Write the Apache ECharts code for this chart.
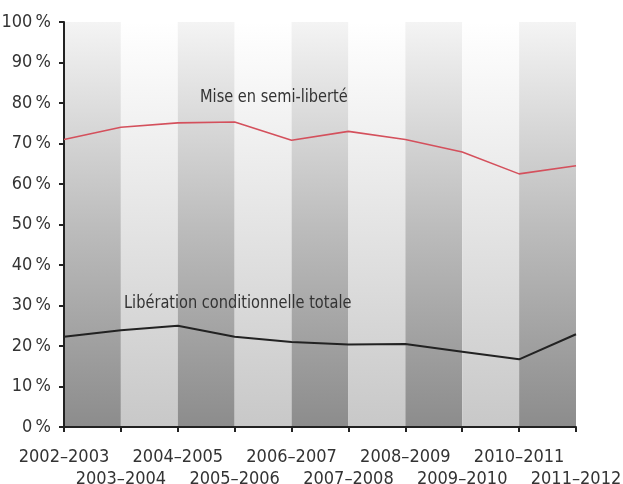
<!DOCTYPE html>
<html>
<head>
<meta charset="utf-8">
<script src="https://cdn.jsdelivr.net/npm/echarts@6/dist/echarts.min.js"></script>
<style>
  html, body { margin: 0; padding: 0; background: #fff; }
  #chart { width: 623px; height: 484px; }
</style>
</head>
<body>
<div id="chart"></div>
<script>
const years = ['2002–2003', '2003–2004', '2004–2005', '2005–2006', '2006–2007',
  '2007–2008', '2008–2009', '2009–2010', '2010–2011', '2011–2012'];
const semiLiberte = [71.0, 74.0, 75.1, 75.3, 70.8, 73.0, 71.0, 67.9, 62.5, 64.5];
const liberationTotale = [22.3, 23.9, 25.0, 22.3, 21.0, 20.4, 20.5, 18.6, 16.7, 22.9];
const yTicks = [0, 10, 20, 30, 40, 50, 60, 70, 80, 90, 100];

// narrow look: ask the canvas for the condensed width of DejaVu Sans
const FONT = 'DejaVu Sans';
const STRETCH = 'condensed';
const chart = echarts.init(document.getElementById('chart'));

// darker / lighter vertical bands, fading to white at the top
const darkBand = new echarts.graphic.LinearGradient(0, 0, 0, 1, [
  { offset: 0, color: '#f4f4f4' },
  { offset: 0.5, color: '#bdbdbd' },
  { offset: 1, color: '#8c8c8c' }
]);
const lightBand = new echarts.graphic.LinearGradient(0, 0, 0, 1, [
  { offset: 0, color: '#ffffff' },
  { offset: 0.5, color: '#e4e4e4' },
  { offset: 1, color: '#c8c8c8' }
]);

const option = {
  animation: false,
  grid: { left: 64, right: 47, top: 22, bottom: 57, outerBoundsMode: 'none', containLabel: false },
  xAxis: {
    type: 'category',
    data: years,
    boundaryGap: false,
    axisLine: { lineStyle: { color: '#222', width: 2 } },
    axisTick: { show: true, length: 5, lineStyle: { color: '#222', width: 2 } },
    axisLabel: {
      interval: 0,
      margin: 19,
      color: '#333',
      fontFamily: FONT,
      fontStyle: STRETCH,
      fontSize: 18,
      lineHeight: 22,
      formatter: (v, i) => (i % 2 ? '\n' + v : v)
    },
    splitLine: { show: false },
    splitArea: { show: true, interval: 0, areaStyle: { color: [darkBand, lightBand] } }
  },
  yAxis: {
    type: 'value',
    min: 0,
    max: 100,
    interval: 10,
    axisLine: { show: true, lineStyle: { color: '#222', width: 2 } },
    axisTick: { show: true, length: 5, lineStyle: { color: '#222', width: 2 } },
    axisLabel: {
      margin: 13,
      color: '#333',
      fontFamily: FONT,
      fontStyle: STRETCH,
      fontSize: 18,
      formatter: v => (yTicks.includes(v) ? v + '\u202f%' : '')
    },
    splitLine: { show: false }
  },
  series: [
    {
      name: 'Mise en semi-liberté',
      type: 'line',
      data: semiLiberte,
      symbol: 'none',
      lineStyle: { color: '#d4505c', width: 1.6 }
    },
    {
      name: 'Libération conditionnelle totale',
      type: 'line',
      data: liberationTotale,
      symbol: 'none',
      lineStyle: { color: '#222', width: 2 }
    }
  ],
  graphic: [
    {
      type: 'text', x: 200, y: 88, scaleX: 0.9, z: 100,
      style: { text: 'Mise en semi-liberté', fill: '#333', fontSize: 18, fontFamily: FONT, fontStyle: STRETCH }
    },
    {
      type: 'text', x: 124, y: 294, scaleX: 0.9, z: 100,
      style: { text: 'Libération conditionnelle totale', fill: '#333', fontSize: 18, fontFamily: FONT, fontStyle: STRETCH }
    }
  ]
};

chart.setOption(option);
</script>
</body>
</html>
